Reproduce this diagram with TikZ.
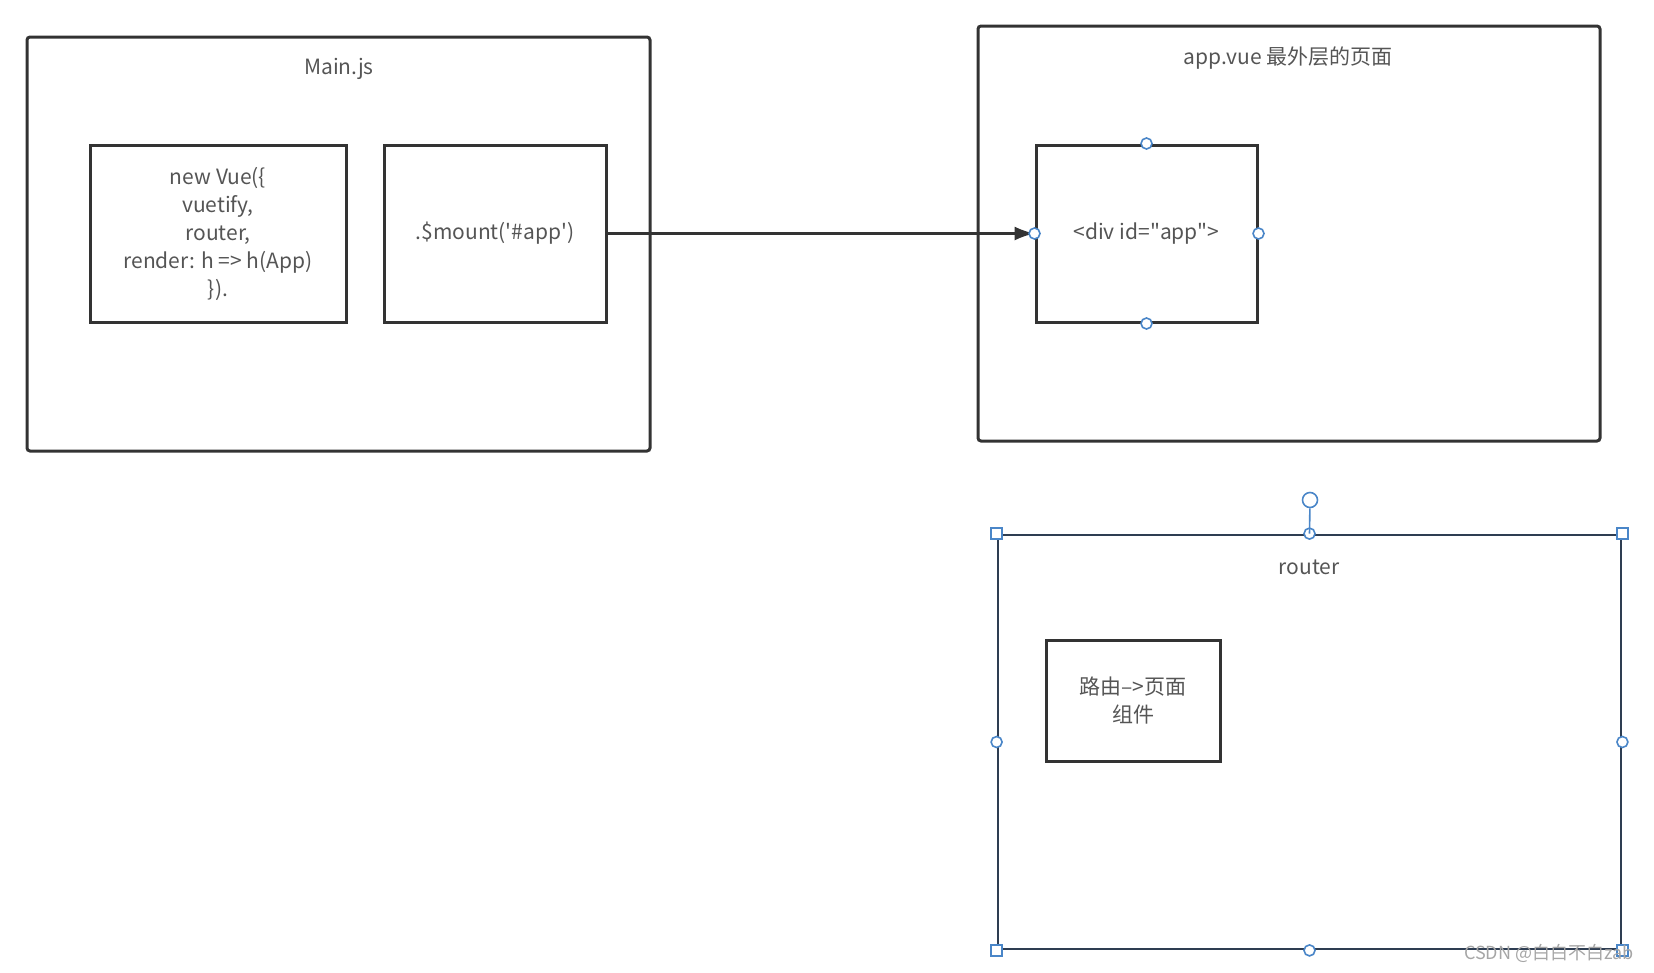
\documentclass[tikz,border=0pt]{standalone}
\usepackage{fontspec}
\setmainfont{Noto Sans CJK SC}
\usepackage{tikz}
\usetikzlibrary{arrows.meta,positioning}

\definecolor{boxline}{HTML}{333333}
\definecolor{textgray}{HTML}{555555}
\definecolor{handleblue}{HTML}{4A86C8}
\definecolor{routerline}{HTML}{2E3D52}

\tikzset{
    frame/.style={draw=boxline, line width=3pt, rounded corners=3pt},
    inbox/.style={draw=boxline, line width=3pt, align=center, text=textgray,
        font=\fontsize{21}{28}\selectfont},
    title/.style={text=textgray, font=\fontsize{21}{28}\selectfont},
    dot/.style={circle, draw=handleblue, fill=white, line width=1.6pt,
        minimum size=11pt, inner sep=0pt},
    sq/.style={rectangle, draw=handleblue, fill=white, line width=1.6pt,
        minimum size=11pt, inner sep=0pt}
}

\begin{document}
\begin{tikzpicture}[x=1pt, y=-1pt]
        \useasboundingbox (0,0) rectangle (1654,972);

        % outer frames
        \node[frame, minimum width=623pt, minimum height=414pt] (main) at (338.5,244) {};
        \node[frame, minimum width=622pt, minimum height=415pt] (appvue) at (1289,233.5) {};
        \node[draw=routerline, line width=2.8pt, minimum width=623pt, minimum height=414pt] (router) at (1309.5,742) {};

        \node[title] (mainlbl) at (339,69) {Main.js};
        \node[title] (appvuelbl) at (1288,58) {app.vue 最外层的页面};
        \node[title] (routerlbl) at (1309,567) {router};

        % inner boxes
        \node[inbox, minimum width=256pt, minimum height=177pt] (newvue) at (218,233.5)
            {new Vue(\{\\vuetify,\\router,\\render: h => h(App)\\\}).};
        \node[inbox, minimum width=222pt, minimum height=177pt] (mount) at (495,233.5)
            {.\$mount(\textquotesingle\#app\textquotesingle)};
        \node[inbox, minimum width=221pt, minimum height=177pt] (div) at (1146.5,233.5)
            {<div id=\textquotedbl app\textquotedbl>};
        \node[inbox, minimum width=174pt, minimum height=121pt] (route) at (1133,700.5) {路由-->页面\\组件};

        \draw[-{Latex[length=20pt, width=14pt]}, draw=boxline, fill=boxline, line width=2.2pt] (mount.east) -- (div.west);

        % handles
        \foreach \a in {north, south, east, west}
            \node[dot] at (div.\a) {};
        \foreach \a in {north west, north east, south west, south east}
            \node[sq] at (router.\a) {};
        \foreach \a in {north, south, east, west}
            \node[dot] at (router.\a) {};
        \node[dot, minimum size=15pt] (rot) at (1310,500) {};
        \draw[handleblue, line width=1.6pt] (rot) -- (router.north);

        \node[text=gray!70, font=\fontsize{18}{20}\selectfont] (mark) at (1549,953) {CSDN @白白不白zab};
\end{tikzpicture}
\end{document}
